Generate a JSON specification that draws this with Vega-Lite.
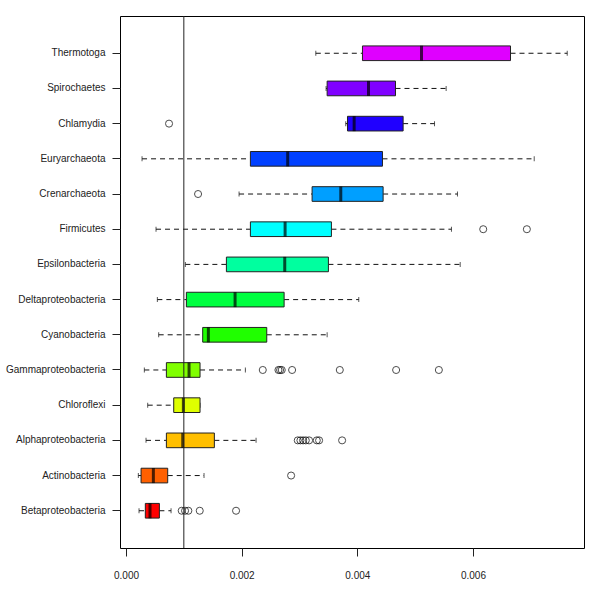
{
  "$schema": "https://vega.github.io/schema/vega-lite/v6.json",
  "width": 464,
  "height": 532,
  "autosize": {"type": "none"},
  "padding": {"left": 120, "top": 16, "right": 16, "bottom": 52},
  "background": "white",
  "config": {
    "view": {"stroke": "#000", "strokeWidth": 1},
    "axis": {"grid": false, "domain": false, "labelFont": "Liberation Sans", "labelFontSize": 10, "labelColor": "#222", "tickColor": "#222", "tickSize": 8, "title": null}
  },
  "datasets": {
    "stats": [
      {"group": "Thermotoga", "lower": 0.003282, "q1": 0.004089, "median": 0.00511, "q3": 0.006649, "upper": 0.00763},
      {"group": "Spirochaetes", "lower": 0.00346, "q1": 0.003478, "median": 0.004193, "q3": 0.00466, "upper": 0.005536},
      {"group": "Chlamydia", "lower": 0.0038, "q1": 0.00383, "median": 0.003945, "q3": 0.004792, "upper": 0.005335},
      {"group": "Euryarchaeota", "lower": 0.000277, "q1": 0.002151, "median": 0.002796, "q3": 0.004435, "upper": 0.007059},
      {"group": "Crenarchaeota", "lower": 0.001955, "q1": 0.003218, "median": 0.003714, "q3": 0.004446, "upper": 0.005732},
      {"group": "Firmicutes", "lower": 0.000519, "q1": 0.002151, "median": 0.002751, "q3": 0.003552, "upper": 0.005628},
      {"group": "Epsilonbacteria", "lower": 0.001026, "q1": 0.001736, "median": 0.002745, "q3": 0.0035, "upper": 0.005779},
      {"group": "Deltaproteobacteria", "lower": 0.000542, "q1": 0.001044, "median": 0.001886, "q3": 0.002734, "upper": 0.004025},
      {"group": "Cyanobacteria", "lower": 0.000565, "q1": 0.001326, "median": 0.001424, "q3": 0.002434, "upper": 0.003478},
      {"group": "Gammaproteobacteria", "lower": 0.000317, "q1": 0.000698, "median": 0.00109, "q3": 0.00128, "upper": 0.002064},
      {"group": "Chloroflexi", "lower": 0.000375, "q1": 0.000825, "median": 0.000992, "q3": 0.00128, "upper": 0.00128},
      {"group": "Alphaproteobacteria", "lower": 0.000346, "q1": 0.000698, "median": 0.000981, "q3": 0.001528, "upper": 0.002249},
      {"group": "Actinobacteria", "lower": 0.000213, "q1": 0.00026, "median": 0.000473, "q3": 0.000721, "upper": 0.001349},
      {"group": "Betaproteobacteria", "lower": 0.000225, "q1": 0.000334, "median": 0.000415, "q3": 0.000577, "upper": 0.000779}
    ],
    "out": [
      {"group": "Chlamydia", "value": 0.000744},
      {"group": "Crenarchaeota", "value": 0.001246},
      {"group": "Firmicutes", "value": 0.006177},
      {"group": "Firmicutes", "value": 0.006932},
      {"group": "Gammaproteobacteria", "value": 0.002365},
      {"group": "Gammaproteobacteria", "value": 0.002636},
      {"group": "Gammaproteobacteria", "value": 0.002664},
      {"group": "Gammaproteobacteria", "value": 0.002693},
      {"group": "Gammaproteobacteria", "value": 0.002872},
      {"group": "Gammaproteobacteria", "value": 0.003697},
      {"group": "Gammaproteobacteria", "value": 0.004671},
      {"group": "Gammaproteobacteria", "value": 0.00541},
      {"group": "Alphaproteobacteria", "value": 0.00297},
      {"group": "Alphaproteobacteria", "value": 0.003016},
      {"group": "Alphaproteobacteria", "value": 0.003062},
      {"group": "Alphaproteobacteria", "value": 0.003109},
      {"group": "Alphaproteobacteria", "value": 0.003166},
      {"group": "Alphaproteobacteria", "value": 0.003299},
      {"group": "Alphaproteobacteria", "value": 0.003339},
      {"group": "Alphaproteobacteria", "value": 0.003737},
      {"group": "Actinobacteria", "value": 0.002855},
      {"group": "Betaproteobacteria", "value": 0.000963},
      {"group": "Betaproteobacteria", "value": 0.001021},
      {"group": "Betaproteobacteria", "value": 0.001078},
      {"group": "Betaproteobacteria", "value": 0.001275},
      {"group": "Betaproteobacteria", "value": 0.001903}
    ],
    "ref": [{"v": 0.001}]
  },
  "layer": [
    {
      "data": {"name": "stats"},
      "mark": {"type": "rule", "strokeDash": [5, 4], "color": "#111", "strokeWidth": 1},
      "encoding": {
        "y": {"field": "group", "type": "nominal", "bandPosition": 0.5,
          "scale": {"type": "band", "domain": ["Thermotoga", "Spirochaetes", "Chlamydia", "Euryarchaeota", "Crenarchaeota", "Firmicutes", "Epsilonbacteria", "Deltaproteobacteria", "Cyanobacteria", "Gammaproteobacteria", "Chloroflexi", "Alphaproteobacteria", "Actinobacteria", "Betaproteobacteria"], "paddingInner": 0.583, "paddingOuter": 0.85},
          "axis": {"labelPadding": 7}},
        "x": {"field": "lower", "type": "quantitative",
          "scale": {"domain": [-0.000104, 0.00792], "nice": false, "zero": false},
          "axis": {"values": [0, 0.002, 0.004, 0.006], "format": ".3f", "labelPadding": 14}},
        "x2": {"field": "q1"}
      }
    },
    {
      "data": {"name": "stats"},
      "mark": {"type": "rule", "strokeDash": [5, 4], "color": "#111", "strokeWidth": 1},
      "encoding": {
        "y": {"field": "group", "type": "nominal", "bandPosition": 0.5},
        "x": {"field": "q3", "type": "quantitative"},
        "x2": {"field": "upper"}
      }
    },
    {
      "data": {"name": "stats"},
      "mark": {"type": "tick", "orient": "vertical", "color": "#111", "size": 5, "thickness": 1},
      "encoding": {
        "y": {"field": "group", "type": "nominal"},
        "x": {"field": "lower", "type": "quantitative"}
      }
    },
    {
      "data": {"name": "stats"},
      "mark": {"type": "tick", "orient": "vertical", "color": "#111", "size": 5, "thickness": 1},
      "encoding": {
        "y": {"field": "group", "type": "nominal"},
        "x": {"field": "upper", "type": "quantitative"}
      }
    },
    {
      "data": {"name": "stats"},
      "mark": {"type": "bar", "stroke": "#222", "strokeWidth": 1, "opacity": 1},
      "encoding": {
        "y": {"field": "group", "type": "nominal"},
        "x": {"field": "q1", "type": "quantitative"},
        "x2": {"field": "q3"},
        "fill": {"field": "group", "type": "nominal", "legend": null,
          "scale": {"domain": ["Betaproteobacteria", "Actinobacteria", "Alphaproteobacteria", "Chloroflexi", "Gammaproteobacteria", "Cyanobacteria", "Deltaproteobacteria", "Epsilonbacteria", "Firmicutes", "Crenarchaeota", "Euryarchaeota", "Chlamydia", "Spirochaetes", "Thermotoga"],
            "range": ["#FF0000", "#FF6000", "#FFBF00", "#DFFF00", "#80FF00", "#20FF00", "#00FF40", "#00FF9F", "#00FFFF", "#009FFF", "#0040FF", "#2000FF", "#8000FF", "#DF00FF"]}}
      }
    },
    {
      "data": {"name": "stats"},
      "mark": {"type": "tick", "orient": "vertical", "color": "#000", "size": 15, "thickness": 3},
      "encoding": {
        "y": {"field": "group", "type": "nominal"},
        "x": {"field": "median", "type": "quantitative"}
      }
    },
    {
      "data": {"name": "out"},
      "mark": {"type": "point", "shape": "circle", "filled": false, "color": "#000", "size": 50, "strokeWidth": 1},
      "encoding": {
        "y": {"field": "group", "type": "nominal"},
        "x": {"field": "value", "type": "quantitative"}
      }
    },
    {
      "data": {"name": "ref"},
      "mark": {"type": "rule", "color": "#222", "strokeWidth": 1},
      "encoding": {
        "x": {"field": "v", "type": "quantitative"}
      }
    }
  ]
}
